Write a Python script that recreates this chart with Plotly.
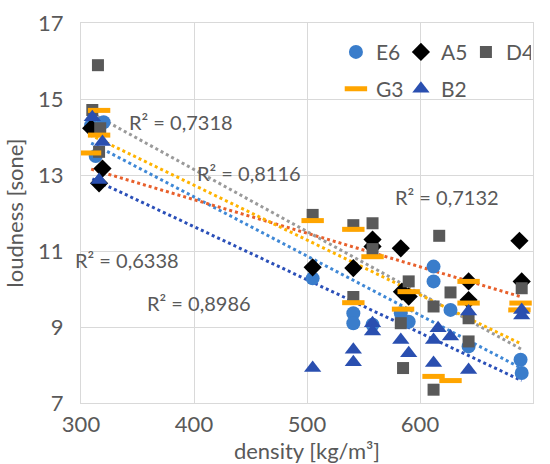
import numpy as np
import plotly.graph_objects as go

# ---- data ----
e6_x = [309, 320, 313, 505, 541, 541, 558, 583, 590, 612, 612, 627, 643, 689, 690]
e6_y = [14.31, 14.39, 13.50, 10.28, 9.36, 9.10, 9.06, 9.36, 9.14, 10.59, 10.20, 9.45, 8.49, 8.14, 7.79]

a5_x = [309, 319, 316, 505, 541, 558, 558, 583, 584, 590, 643, 643, 688, 690]
a5_y = [14.23, 13.17, 12.78, 10.57, 10.55, 11.30, 11.12, 11.07, 9.93, 9.80, 10.20, 9.71, 11.27, 10.20]

d4_x = [315, 310, 317, 316, 505, 541, 541, 558, 558, 583, 585, 590, 617, 612, 612, 627, 643, 643, 690]
d4_y = [15.89, 14.71, 14.23, 13.61, 11.95, 11.68, 9.79, 11.73, 11.05, 9.10, 7.92, 10.20, 11.40, 9.54, 7.35, 9.91, 9.23, 8.62, 10.02]

g3_x = [316, 316, 308, 505, 541, 541, 558, 585, 590, 612, 627, 643, 643, 689, 688]
g3_y = [14.70, 14.05, 13.58, 11.80, 11.57, 9.64, 10.85, 9.47, 9.93, 7.70, 7.59, 10.20, 9.63, 9.63, 9.45]

b2_x = [310, 319, 316, 505, 541, 541, 558, 558, 583, 590, 616, 612, 612, 627, 643, 643, 690, 690]
b2_y = [14.52, 13.87, 12.87, 7.92, 8.40, 8.07, 9.10, 8.88, 8.66, 8.31, 8.97, 8.66, 8.05, 8.75, 9.41, 7.87, 9.45, 9.30]

r2_labels = ["R² = 0,7318", "R² = 0,8116", "R² = 0,7132", "R² = 0,6338", "R² = 0,8986"]
r2_pos_x = [341, 401, 576, 293, 357]
r2_pos_y = [14.39, 13.05, 12.42, 10.77, 9.64]

x_range = [300, 700]
y_range = [7, 17]
x_ticks = [300, 400, 500, 600, 700]
y_ticks = [7, 9, 11, 13, 15, 17]

TXT = "#595959"
FONT = "Lato"

series = [
    ("E6", e6_x, e6_y, dict(symbol="circle", size=14, color="#3A7DCB"), "#3F88D6", "legend"),
    ("A5", a5_x, a5_y, dict(symbol="diamond", size=14, color="#000000"), "#E8602C", "legend"),
    ("D4", d4_x, d4_y, dict(symbol="square", size=12, color="#595959"), "#9A9A9A", "legend"),
    ("G3", g3_x, g3_y, dict(symbol="line-ew", size=16, color="#FFA500",
                            line=dict(color="#FFA500", width=5)), "#FFB300", "legend2"),
    ("B2", b2_x, b2_y, dict(symbol="triangle-up", size=15, color="#2A4FB0"), "#2A4FB8", "legend2"),
]

fig = go.Figure()

# trendlines (computed from data)
for name, xs, ys, mk, tcol, lg in series:
    xs_a = np.array(xs, float)
    ys_a = np.array(ys, float)
    k, b = np.polyfit(xs_a, ys_a, 1)
    xl = np.array([xs_a.min(), xs_a.max()])
    fig.add_trace(go.Scatter(x=xl, y=k * xl + b, mode="lines",
                             line=dict(color=tcol, width=3, dash="dot"),
                             showlegend=False, hoverinfo="skip"))

for name, xs, ys, mk, tcol, lg in series:
    fig.add_trace(go.Scatter(x=xs, y=ys, mode="markers", name=name, marker=mk, legend=lg))

for t, ax, ay in zip(r2_labels, r2_pos_x, r2_pos_y):
    fig.add_annotation(x=(ax - x_range[0]) / (x_range[1] - x_range[0]),
                       y=(ay - y_range[0]) / (y_range[1] - y_range[0]),
                       xref="paper", yref="paper",
                       text=t, showarrow=False, xanchor="left", yanchor="middle",
                       font=dict(size=20, color=TXT, family=FONT))

leg_common = dict(orientation="h", xanchor="left", yanchor="top",
                  bgcolor="rgba(0,0,0,0)", font=dict(size=21, color=TXT),
                  itemwidth=30, tracegroupgap=0, entrywidth=20, entrywidthmode="pixels")

fig.update_layout(
    width=550, height=464,
    margin=dict(l=81, r=17, t=23, b=61, autoexpand=False),
    paper_bgcolor="white", plot_bgcolor="white",
    font=dict(family=FONT, size=22, color=TXT),
    legend=dict(x=0.564, y=0.977, **leg_common),
    legend2=dict(x=0.564, y=0.88, **leg_common),
    xaxis=dict(range=x_range, tickvals=x_ticks, showgrid=True, gridcolor="#D9D9D9",
               gridwidth=1, showline=True, linecolor="#D9D9D9", mirror=True, zeroline=False,
               ticks="", ticklabelstandoff=2, automargin=False,
               title=dict(text="density [kg/m³]", standoff=0, font=dict(size=22)),
               tickfont=dict(size=22)),
    yaxis=dict(range=y_range, tickvals=y_ticks, showgrid=True, gridcolor="#D9D9D9",
               gridwidth=1, showline=True, linecolor="#D9D9D9", mirror=True, zeroline=False,
               ticks="", ticklabelstandoff=12, automargin=False,
               title=dict(text="loudness [sone]", standoff=8, font=dict(size=22)),
               tickfont=dict(size=22)),
)

fig.write_html("out.html", config={"displayModeBar": False},
               post_script="document.body.style.margin='0';")
